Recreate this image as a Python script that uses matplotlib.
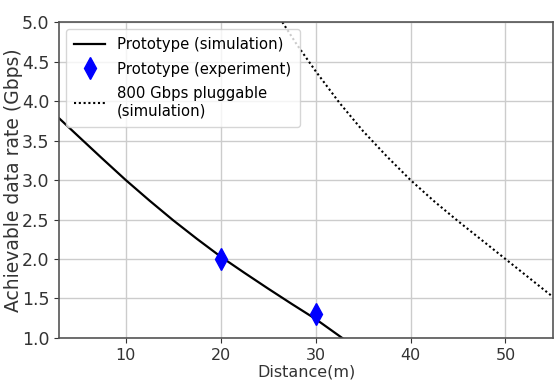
import matplotlib
matplotlib.use("Agg")
import matplotlib.pyplot as plt

# prototype simulation curve
sim_x = [3, 5, 7.5, 10, 12.5, 15, 17.5, 20, 22.5, 25, 27.5, 30, 32.8]
sim_y = [3.78, 3.555, 3.275, 3.0, 2.74, 2.49, 2.255, 2.03, 1.825, 1.625, 1.43, 1.24, 1.0]

# measured points
exp_x = [20, 30]
exp_y = [2.0, 1.3]

# 800 Gbps pluggable simulation curve
plug_x = [26.5, 28, 30, 32.5, 35, 37.5, 40, 42.5, 45, 47.5, 50, 52.5, 55]
plug_y = [5.0, 4.72, 4.38, 3.98, 3.62, 3.3, 3.0, 2.73, 2.48, 2.24, 2.0, 1.76, 1.52]

x_ticks = [10, 20, 30, 40, 50]
y_ticks = [1.0, 1.5, 2.0, 2.5, 3.0, 3.5, 4.0, 4.5, 5.0]

fig, ax = plt.subplots(figsize=(5.54, 3.81), dpi=100)
ax.plot(sim_x, sim_y, color="black", linewidth=1.6, label="Prototype (simulation)")
ax.plot(exp_x, exp_y, linestyle="none", marker="d", markersize=11,
        color="blue", label="Prototype (experiment)")
ax.plot(plug_x, plug_y, color="black", linestyle=(0, (1, 1.3)), linewidth=1.5,
        label="800 Gbps pluggable\n(simulation)")

ax.set_xlim(3, 55)
ax.set_ylim(1.0, 5.0)
ax.set_xticks(x_ticks)
ax.set_yticks(y_ticks)
ax.tick_params(axis="x", labelsize=11.5, colors="#333333")
ax.tick_params(axis="y", labelsize=12.5, colors="#333333")
ax.grid(True, color="#cccccc", linewidth=1)
ax.set_xlabel("Distance(m)", fontsize=11.5, color="#333333", labelpad=1)
ax.set_ylabel("Achievable data rate (Gbps)", fontsize=13.5, color="#333333",
              labelpad=-1)
for s in ax.spines.values():
    s.set_color("#555555")
    s.set_linewidth(1.2)

ax.legend(loc="upper left", fontsize=10.7, handlelength=2.1, labelspacing=0.65,
          borderpad=0.55, borderaxespad=0.45, framealpha=0.8)

fig.subplots_adjust(left=0.107, right=0.998, top=0.942, bottom=0.113)
fig.savefig("out.png", dpi=100)
